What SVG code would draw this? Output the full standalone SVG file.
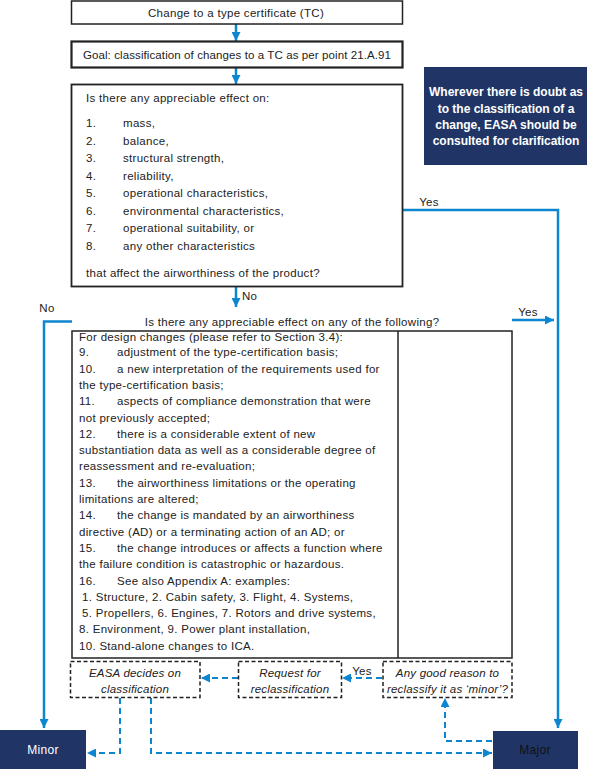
<svg xmlns="http://www.w3.org/2000/svg" width="590" height="769" viewBox="0 0 590 769">
<defs>
<marker id="ah" viewBox="0 0 10 10" refX="10" refY="5" markerWidth="9" markerHeight="9" markerUnits="userSpaceOnUse" orient="auto">
<path d="M0,0 L10,5 L0,10 z" fill="#0c86cf"/>
</marker>
<style>
text{font-family:"Liberation Sans",Arial,sans-serif;font-size:11.5px;letter-spacing:0.3px;fill:#222}
.box{fill:#fff;stroke:#222;stroke-width:1.5}
.dbox{fill:#fff;stroke:#222;stroke-width:1.5;stroke-dasharray:4,2.5}
.navy{fill:#203566}
.c{stroke:#0c86cf;stroke-width:2.5;fill:none}
.d{stroke:#0c86cf;stroke-width:2;fill:none;stroke-dasharray:6,4}
.it{font-style:italic;font-size:11.5px;letter-spacing:0.2px}
.mid{text-anchor:middle}
.wb{fill:#fff;font-weight:bold;font-size:12px;letter-spacing:0}
</style>
</defs>
<g id="connectors">
<line class="c" x1="236" y1="24" x2="236" y2="41" marker-end="url(#ah)"/>
<line class="c" x1="236" y1="68" x2="236" y2="84" marker-end="url(#ah)"/>
<polyline class="c" points="402,210 558,210 558,728" marker-end="url(#ah)"/>
<line class="c" x1="236" y1="287" x2="236" y2="307" marker-end="url(#ah)"/>
<line class="c" x1="512" y1="320" x2="554" y2="320" marker-end="url(#ah)"/>
<polyline class="c" points="72,321.5 44,321.5 44,728" marker-end="url(#ah)"/>
<line class="d" x1="382" y1="678" x2="342" y2="678" marker-end="url(#ah)"/>
<line class="d" x1="238" y1="678" x2="201" y2="678" marker-end="url(#ah)"/>
<polyline class="d" points="120,698 120,753 87,753" marker-end="url(#ah)"/>
<polyline class="d" points="151,698 151,753 492,753" marker-end="url(#ah)"/>
<polyline class="d" points="492,741 445,741 445,698" marker-end="url(#ah)"/>
<text x="429" y="206" class="mid">Yes</text>
<text x="528" y="316" class="mid">Yes</text>
<text x="242" y="300">No</text>
<text x="47" y="312" class="mid">No</text>
<text x="362" y="675" class="mid">Yes</text>
</g>
<g id="n1">
<rect class="box" x="71.5" y="1" width="331" height="23"/>
<text x="236" y="16.5" class="mid">Change to a type certificate (TC)</text>
</g>
<g id="n2">
<rect class="box" x="71.5" y="41.5" width="331" height="26" style="stroke-width:2.2"/>
<text x="237" y="58.5" class="mid" style="letter-spacing:0.1px">Goal: classification of changes to a TC as per point 21.A.91</text>
</g>
<g id="n3">
<rect class="box" x="71.5" y="84.5" width="331" height="202" style="stroke-width:1.8"/>
<text x="86" y="102">Is there any appreciable effect on:</text>
<text x="86" y="126.5">1.</text><text x="123" y="126.5">mass,</text>
<text x="86" y="144.5">2.</text><text x="123" y="144.5">balance,</text>
<text x="86" y="162">3.</text><text x="123" y="162">structural strength,</text>
<text x="86" y="179.5">4.</text><text x="123" y="179.5">reliability,</text>
<text x="86" y="197">5.</text><text x="123" y="197">operational characteristics,</text>
<text x="86" y="214.5">6.</text><text x="123" y="214.5">environmental characteristics,</text>
<text x="86" y="232">7.</text><text x="123" y="232">operational suitability, or</text>
<text x="86" y="249.5">8.</text><text x="123" y="249.5">any other characteristics</text>
<text x="86" y="277">that affect the airworthiness of the product?</text>
</g>
<g id="note">
<rect class="navy" x="424" y="67" width="163" height="98"/>
<text x="506" y="96" class="mid wb">Wherever there is doubt as</text>
<text x="506" y="113" class="mid wb">to the classification of a</text>
<text x="506" y="129" class="mid wb">change, EASA should be</text>
<text x="506" y="145" class="mid wb">consulted for clarification</text>
</g>
<g id="n4">
<text x="292" y="325.5" class="mid">Is there any appreciable effect on any of the following?</text>
<rect class="box" x="72" y="331" width="440" height="327"/>
<line x1="398" y1="331" x2="398" y2="658" stroke="#222" stroke-width="1.5"/>
<text x="79" y="340.5">For design changes (please refer to Section 3.4):</text>
<text x="79" y="356.3">9.</text><text x="117" y="356.3">adjustment of the type-certification basis;</text>
<text x="79" y="372.6">10.</text><text x="117" y="372.6">a new interpretation of the requirements used for</text>
<text x="79" y="388.9">the type-certification basis;</text>
<text x="79" y="405.2">11.</text><text x="117" y="405.2">aspects of compliance demonstration that were</text>
<text x="79" y="421.5">not previously accepted;</text>
<text x="79" y="437.8">12.</text><text x="117" y="437.8">there is a considerable extent of new</text>
<text x="79" y="454.1">substantiation data as well as a considerable degree of</text>
<text x="79" y="470.4">reassessment and re-evaluation;</text>
<text x="79" y="486.7">13.</text><text x="117" y="486.7">the airworthiness limitations or the operating</text>
<text x="79" y="503">limitations are altered;</text>
<text x="79" y="519.3">14.</text><text x="117" y="519.3">the change is mandated by an airworthiness</text>
<text x="79" y="535.6">directive (AD) or a terminating action of an AD; or</text>
<text x="79" y="551.9">15.</text><text x="117" y="551.9">the change introduces or affects a function where</text>
<text x="79" y="568.2">the failure condition is catastrophic or hazardous.</text>
<text x="79" y="584.5">16.</text><text x="117" y="584.5">See also Appendix A: examples:</text>
<text x="82" y="600.8">1. Structure, 2. Cabin safety, 3. Flight, 4. Systems,</text>
<text x="82" y="617.1">5. Propellers, 6. Engines, 7. Rotors and drive systems,</text>
<text x="79" y="633.4">8. Environment, 9. Power plant installation,</text>
<text x="79" y="649.7">10. Stand-alone changes to ICA.</text>
</g>
<g id="n5">
<rect class="dbox" x="70.5" y="661.5" width="129.5" height="36"/>
<text x="135" y="677" class="mid it">EASA decides on</text>
<text x="135" y="692.5" class="mid it">classification</text>
</g>
<g id="n6">
<rect class="dbox" x="238.5" y="661.5" width="103" height="36"/>
<text x="290" y="677" class="mid it">Request for</text>
<text x="290" y="692.5" class="mid it">reclassification</text>
</g>
<g id="n7">
<rect class="dbox" x="383" y="661.5" width="129" height="36"/>
<text x="447.5" y="677" class="mid it">Any good reason to</text>
<text x="447.5" y="692.5" class="mid it">reclassify it as ‘minor’?</text>
</g>
<g id="minor">
<rect class="navy" x="0" y="730" width="86" height="39"/>
<text x="43" y="754" class="mid" style="fill:#fff;font-size:12px">Minor</text>
</g>
<g id="major">
<rect class="navy" x="493" y="731" width="85" height="38"/>
<text x="535" y="754" class="mid" style="fill:#111;font-size:12px">Major</text>
</g>
</svg>
